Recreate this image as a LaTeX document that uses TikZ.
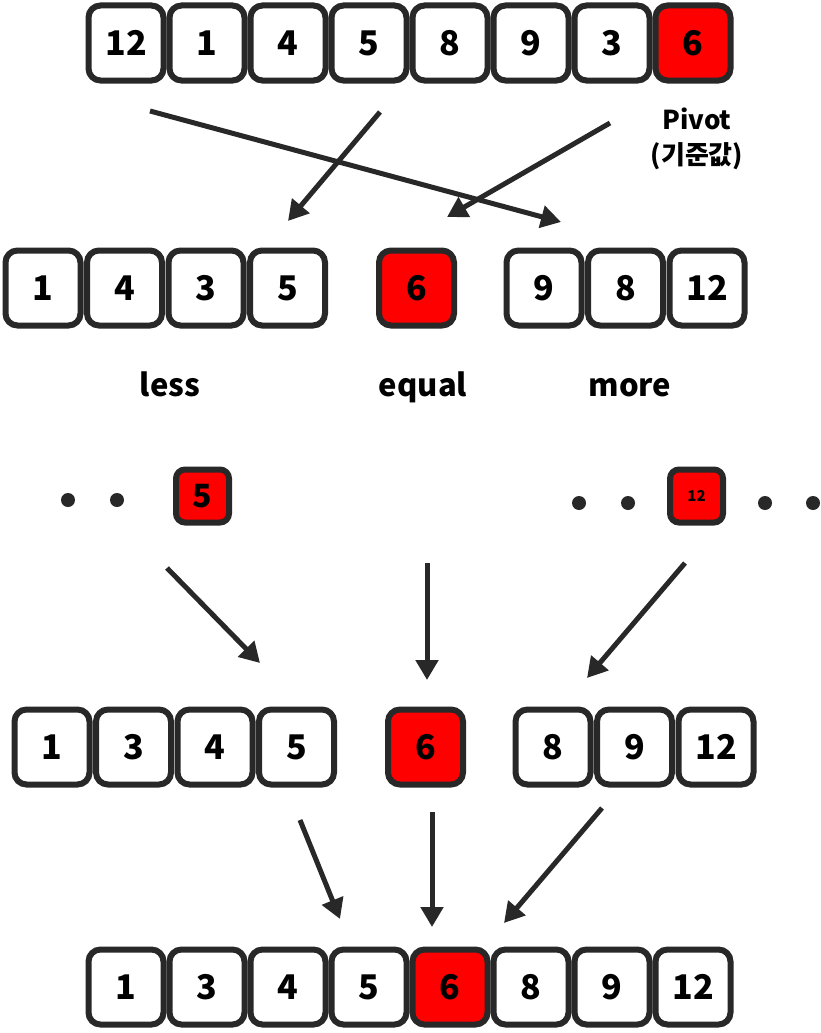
\documentclass[tikz,border=0pt]{standalone}
\usepackage{fontspec}
\setmainfont{Noto Sans CJK KR}
\usetikzlibrary{arrows.meta}
\definecolor{ink}{HTML}{282828}
\definecolor{redf}{HTML}{FF0000}
\tikzset{
 cell/.style={draw=ink, line width=6pt, rounded corners=12pt, fill=white, minimum width=75pt, minimum height=75pt, inner sep=0pt, font=\fontsize{34}{34}\selectfont\bfseries},
 hot/.style={cell, fill=redf},
 mini/.style={draw=ink, line width=6pt, rounded corners=9pt, fill=redf, minimum width=53pt, minimum height=53pt, inner sep=0pt},
 arr/.style={draw=ink, line width=5pt, -{Triangle[length=20pt,width=22pt]}},
 dotn/.style={circle, fill=ink, minimum size=14pt, inner sep=0pt},
 lbl/.style={font=\fontsize{31}{31}\selectfont\bfseries, text=black, align=center},
 grp/.style={lbl, anchor=base, inner sep=0pt}
}
\begin{document}
\begin{tikzpicture}[x=1pt,y=-1pt]
\useasboundingbox (0,0) rectangle (820,1033);
% row 1
\foreach \v [count=\i] in {12,1,4,5,8,9,3}{
  \node[cell] (a\i) at ({126+81*(\i-1)},43) {\v};
}
\node[hot] (a8) at (693,43) {6};
\node[lbl, font=\fontsize{26}{35}\selectfont\bfseries] (pivot) at (697,139) {Pivot\\(기준값)};
% row 2
\node[cell] (b1) at (43,288) {1};
\node[cell] (b2) at (124.5,288) {4};
\node[cell] (b3) at (206,288) {3};
\node[cell] (b4) at (287.5,288) {5};
\node[hot]  (b5) at (416.5,288) {6};
\node[cell] (b6) at (544,288) {9};
\node[cell] (b7) at (625.5,288) {8};
\node[cell] (b8) at (707,288) {12};
\node[grp] (less) at (170,396) {less};
\node[grp] (equal) at (423,396) {equal};
\node[grp] (more) at (630,396) {more};
% row 3
\node[dotn] (d1) at (68,500) {};
\node[dotn] (d2) at (117,500) {};
\node[mini, font=\fontsize{32}{32}\selectfont\bfseries] (m1) at (202.5,496) {5};
\node[dotn] (d3) at (579,503) {};
\node[dotn] (d4) at (628,503) {};
\node[mini, font=\fontsize{15}{15}\selectfont\bfseries] (m2) at (696.5,496) {12};
\node[dotn] (d5) at (765,503) {};
\node[dotn] (d6) at (813,503) {};
% row 4
\node[cell] (c1) at (52,747) {1};
\node[cell] (c2) at (133.5,747) {3};
\node[cell] (c3) at (215,747) {4};
\node[cell] (c4) at (296.5,747) {5};
\node[hot]  (c5) at (425.5,747) {6};
\node[cell] (c6) at (553,747) {8};
\node[cell] (c7) at (634.5,747) {9};
\node[cell] (c8) at (716,747) {12};
% row 5
\foreach \v [count=\i] in {1,3,4,5}{
  \node[cell] (e\i) at ({126+81*(\i-1)},987) {\v};
}
\node[hot] (e5) at (450,987) {6};
\foreach \v [count=\i from 6] in {8,9,12}{
  \node[cell] (e\i) at ({126+81*(\i-1)},987) {\v};
}
% arrow endpoints
\coordinate (s1) at (150,111); \coordinate (t1) at (561,222);
\coordinate (s2) at (380,112); \coordinate (t2) at (288,221);
\coordinate (s3) at (610,123); \coordinate (t3) at (447,217);
\coordinate (s4) at (167,568); \coordinate (t4) at (260,663);
\coordinate (s5) at (427,563); \coordinate (t5) at (427,680);
\coordinate (s6) at (685,563); \coordinate (t6) at (587,678);
\coordinate (s7) at (300,820); \coordinate (t7) at (340,919);
\coordinate (s8) at (432,812); \coordinate (t8) at (432,927);
\coordinate (s9) at (602,808); \coordinate (t9) at (504,923);
\foreach \k in {1,...,9}{ \draw[arr] (s\k) -- (t\k); }
\end{tikzpicture}
\end{document}
